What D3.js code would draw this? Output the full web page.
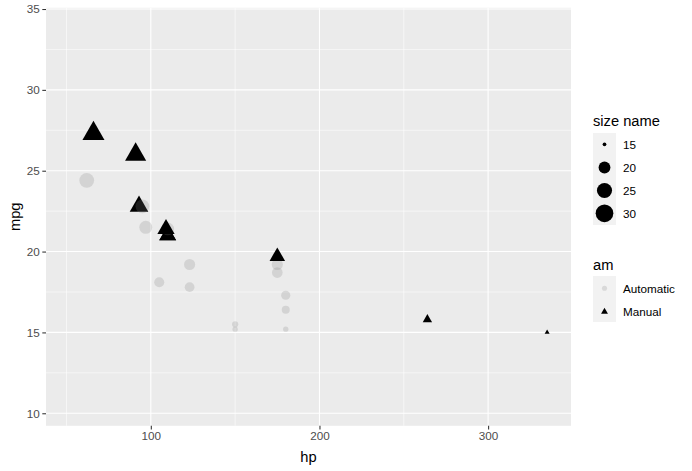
<!DOCTYPE html>
<html><head><meta charset="utf-8">
<script src="https://cdn.jsdelivr.net/npm/d3@7"></script>
<style>body{margin:0;background:#fff;} svg{display:block;font-family:"Liberation Sans",Arial,sans-serif;}</style>
</head><body>
<svg id="c" width="692" height="471"></svg>
<script>
// mtcars subset
const cars = ["Mazda RX4","Mazda RX4 Wag","Datsun 710","Hornet 4 Drive","Hornet Sportabout","Valiant","Duster 360","Merc 240D","Merc 230","Merc 280","Merc 280C","Merc 450SE","Merc 450SL","Merc 450SLC","Cadillac Fleetwood","Lincoln Continental","Chrysler Imperial","Fiat 128","Honda Civic","Toyota Corolla","Toyota Corona","Dodge Challenger","AMC Javelin","Camaro Z28","Pontiac Firebird","Fiat X1-9","Porsche 914-2","Lotus Europa","Ford Pantera L","Ferrari Dino","Maserati Bora","Volvo 142E"];
const hp  = [110,110,93,110,175,105,245,62,95,123,123,180,180,180,205,215,230,66,52,65,97,150,150,245,175,66,91,113,264,175,335,109];
const mpg = [21.0,21.0,22.8,21.4,18.7,18.1,14.3,24.4,22.8,19.2,17.8,16.4,17.3,15.2,10.4,10.4,14.7,32.4,30.4,33.9,21.5,15.5,15.2,13.3,19.2,27.3,26.0,30.4,15.8,19.7,15.0,21.4];
const am  = ["Manual","Manual","Manual","Automatic","Automatic","Automatic","Automatic","Automatic","Automatic","Automatic","Automatic","Automatic","Automatic","Automatic","Automatic","Automatic","Automatic","Manual","Manual","Manual","Automatic","Automatic","Automatic","Automatic","Automatic","Manual","Manual","Manual","Manual","Manual","Manual","Manual"];
const xTicks = [100,200,300];
const yTicks = [10,15,20,25,30,35];
const sizeBreaks = [15,20,25,30];
const amLevels = ["Automatic","Manual"];

const svg = d3.select("#c");
const P = {l:46, r:571, t:7.8, b:425.8};

const xpad = (d3.max(hp)-d3.min(hp))*0.05, ypad=(d3.max(mpg)-d3.min(mpg))*0.05;
const x = d3.scaleLinear().domain([d3.min(hp)-xpad, d3.max(hp)+xpad]).range([P.l,P.r]);
const y = d3.scaleLinear().domain([d3.min(mpg)-ypad, d3.max(mpg)+ypad]).range([P.b,P.t]);
// ggplot area palette: size = 1 + 5*sqrt(rescaled)
const t01 = d3.scaleLinear().domain([15,30]).range([0,1]);
const sizeS = d3.scaleLinear().domain([0,1]).range([1,6]);
const sizeOf = v => sizeS(Math.sqrt(t01(v)));
const radius = s => (2.8*s+0.9)/2;
const autoFill = "#7F7F7F", autoAlpha = 0.22;

// panel
svg.append("rect").attr("x",P.l).attr("y",P.t).attr("width",P.r-P.l).attr("height",P.b-P.t).attr("fill","#EBEBEB");
const g = svg.append("g");
const xMinor = [50,150,250], yMinor=[12.5,17.5,22.5,27.5,32.5];
xMinor.forEach(v=>g.append("line").attr("x1",x(v)).attr("x2",x(v)).attr("y1",P.t).attr("y2",P.b).attr("stroke","#fff").attr("stroke-width",0.55));
yMinor.forEach(v=>g.append("line").attr("y1",y(v)).attr("y2",y(v)).attr("x1",P.l).attr("x2",P.r).attr("stroke","#fff").attr("stroke-width",0.55));
xTicks.forEach(v=>g.append("line").attr("x1",x(v)).attr("x2",x(v)).attr("y1",P.t).attr("y2",P.b).attr("stroke","#fff").attr("stroke-width",1.1));
yTicks.forEach(v=>g.append("line").attr("y1",y(v)).attr("y2",y(v)).attr("x1",P.l).attr("x2",P.r).attr("stroke","#fff").attr("stroke-width",1.1));

// axes
const xa = svg.append("g").attr("transform",`translate(0,${P.b})`).call(d3.axisBottom(x).tickValues(xTicks).tickSize(3.7).tickPadding(2.5));
const ya = svg.append("g").attr("transform",`translate(${P.l},0)`).call(d3.axisLeft(y).tickValues(yTicks).tickSize(3.7).tickPadding(2.5));
[xa,ya].forEach(a=>{a.select(".domain").remove();a.selectAll(".tick line").attr("stroke","#333").attr("stroke-width",1.07);
  a.selectAll("text").attr("fill","#4D4D4D").style("font-size","11.7px").style("font-family","Liberation Sans, Arial, sans-serif");});
svg.append("text").attr("x",(P.l+P.r)/2).attr("y",462).attr("text-anchor","middle").style("font-size","14.7px").text("hp");
svg.append("text").attr("transform",`translate(20,${(P.t+P.b)/2}) rotate(-90)`).attr("text-anchor","middle").style("font-size","14.7px").text("mpg");

function tri(cx,cy,R){const r=1.5551*R, xc=1.3468*R, yc=0.7776*R;
  return `M${cx},${cy-r}L${cx+xc},${cy+yc}L${cx-xc},${cy+yc}Z`;}

const data = hp.map((h,i)=>({hp:h,mpg:mpg[i],am:am[i],name:cars[i]})).filter(d=>d.mpg>=15&&d.mpg<=30);
const pts = svg.append("g");
data.forEach(d=>{
  const R = radius(sizeOf(d.mpg));
  if(d.am==="Automatic") pts.append("circle").attr("cx",x(d.hp)).attr("cy",y(d.mpg)).attr("r",R).attr("fill",autoFill).attr("fill-opacity",autoAlpha);
  else pts.append("path").attr("d",tri(x(d.hp),y(d.mpg),R)).attr("fill","#000");
});

// legends
const lx=593, kw=23;
svg.append("text").attr("x",lx).attr("y",126).style("font-size","14.7px").text("size name");
const kc=[144.3,167.5,190.5,213.3];
svg.append("rect").attr("x",lx).attr("y",133).attr("width",kw).attr("height",92).attr("fill","#F2F2F2");
sizeBreaks.forEach((b,i)=>{
  svg.append("circle").attr("cx",lx+kw/2).attr("cy",kc[i]).attr("r",radius(sizeOf(b))).attr("fill","#000");
  svg.append("text").attr("x",623).attr("y",kc[i]+4.2).style("font-size","11.7px").text(b);
});
svg.append("text").attr("x",lx).attr("y",270).style("font-size","14.7px").text("am");
svg.append("rect").attr("x",lx).attr("y",276).attr("width",kw).attr("height",46).attr("fill","#F2F2F2");
const ac=[288.3,311.7];
amLevels.forEach((a,i)=>{
  const R=radius(1.5);
  if(a==="Automatic") svg.append("circle").attr("cx",lx+kw/2).attr("cy",ac[i]).attr("r",R).attr("fill",autoFill).attr("fill-opacity",autoAlpha);
  else svg.append("path").attr("d",tri(lx+kw/2,ac[i],R)).attr("fill","#000");
  svg.append("text").attr("x",623).attr("y",ac[i]+4.2).style("font-size","11.7px").text(a);
});
</script>
</body></html>
